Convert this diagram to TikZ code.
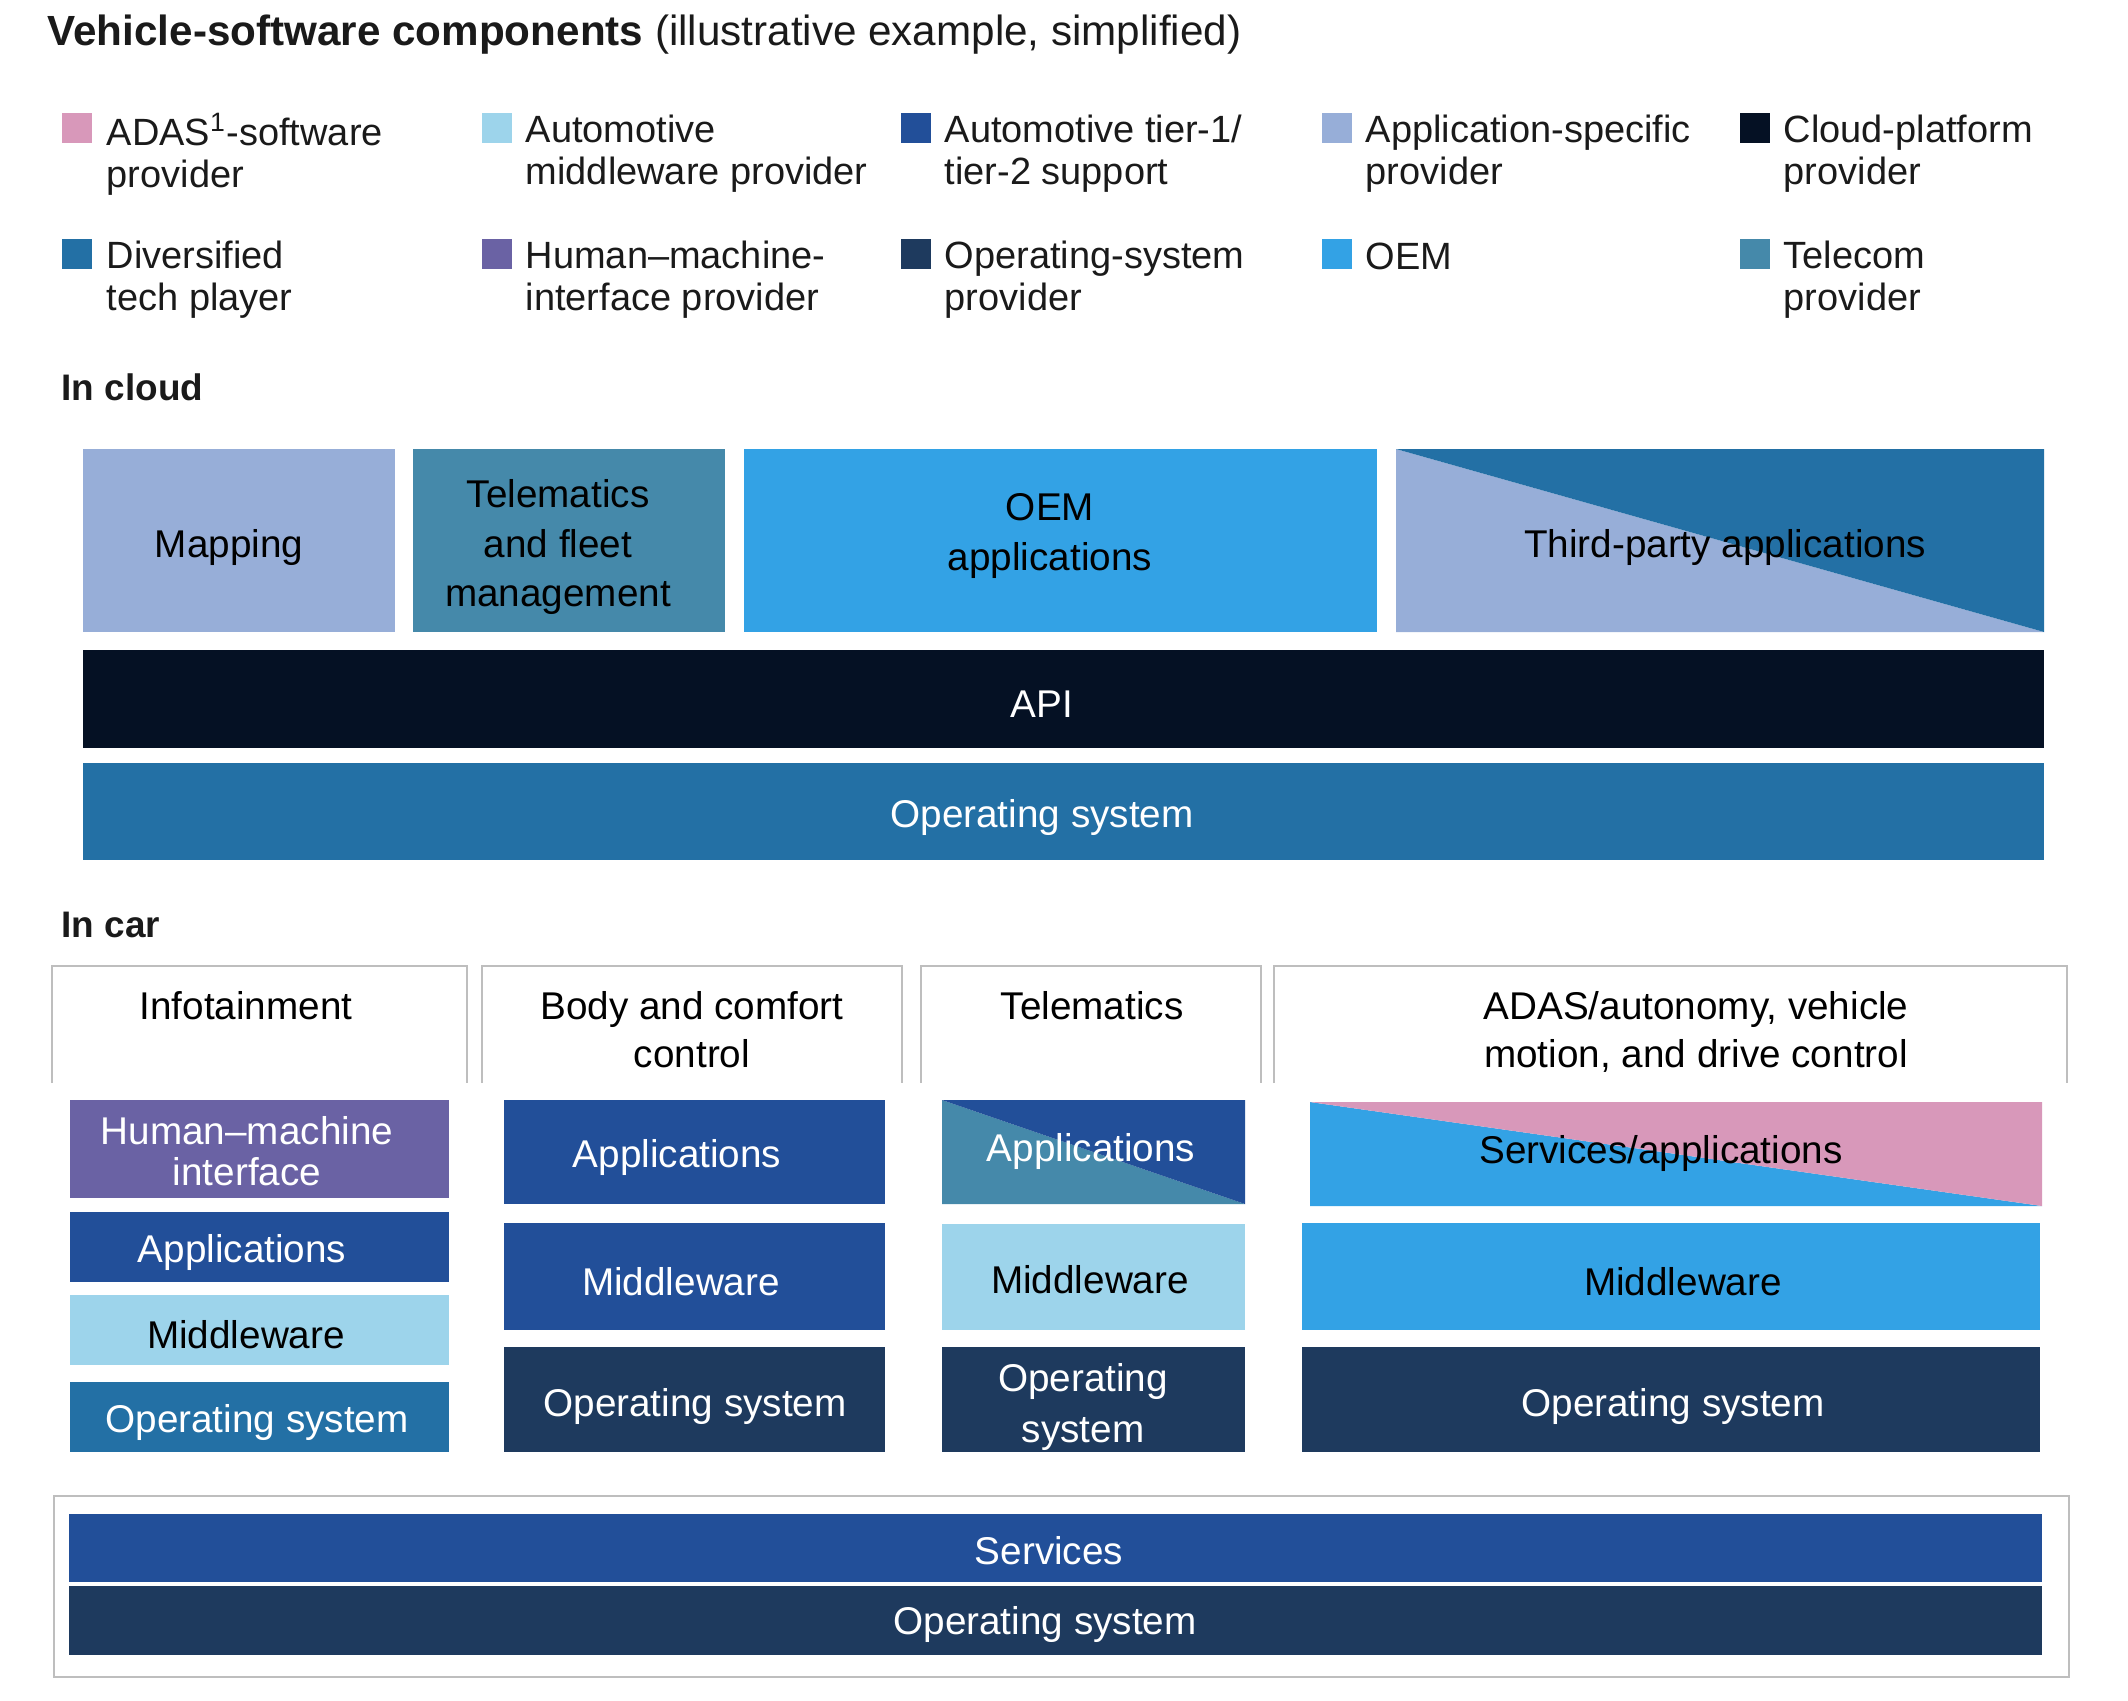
\documentclass[tikz,border=0pt]{standalone}
\usepackage{fontspec}
\setmainfont{Liberation Sans}
\definecolor{cADAS}{HTML}{D898BA}
\definecolor{cMid}{HTML}{9DD4EB}
\definecolor{cTier}{HTML}{224F99}
\definecolor{cApp}{HTML}{97AED8}
\definecolor{cCloud}{HTML}{051124}
\definecolor{cDiv}{HTML}{2370A5}
\definecolor{cHMI}{HTML}{6A62A4}
\definecolor{cOS}{HTML}{1E3A5E}
\definecolor{cOEM}{HTML}{33A2E5}
\definecolor{cTel}{HTML}{4589AA}
\definecolor{cFrame}{HTML}{BEBEBE}
\definecolor{cInk}{HTML}{1A1A1A}
\tikzset{
  swatch/.style={minimum size=0.3cm, inner sep=0pt, outer sep=0pt},
  lg/.style={anchor=west, align=left, inner sep=0pt, text=cInk, yshift=-0.04cm, font=\fontsize{10.8}{12}\selectfont},
  bt/.style={align=center, inner sep=0pt, text=black, yshift=-0.04cm, font=\fontsize{11}{14}\selectfont},
  wt/.style={bt, text=white},
  hd/.style={anchor=west, inner sep=0pt, text=cInk, font=\bfseries\fontsize{10.5}{12}\selectfont},
  frame/.style={draw=cFrame, line width=0.7pt},
  colhead/.style={align=center, inner sep=0pt, text=black, anchor=north, yshift=-0.03cm, font=\fontsize{11}{13.5}\selectfont}
}
\begin{document}
\begin{tikzpicture}[x=0.01cm,y=-0.01cm]
\useasboundingbox (0,0) rectangle (2128,1700);
% title
\node[anchor=west, inner sep=0pt, text=cInk, yshift=-0.05cm, font=\fontsize{12}{14}\selectfont] (title) at (47,30)
  {\textbf{Vehicle-software components} (illustrative example, simplified)};
% legend
\node[swatch, fill=cADAS] (s1) at (77,128) {};
\node[lg] (l1) at (106,150) {ADAS\textsuperscript{1}-software\\provider};
\node[swatch, fill=cMid] (s2) at (497,128) {};
\node[lg] (l2) at (525,150) {Automotive\\middleware provider};
\node[swatch, fill=cTier] (s3) at (916,128) {};
\node[lg] (l3) at (944,150) {Automotive tier-1/\\tier-2 support};
\node[swatch, fill=cApp] (s4) at (1337,128) {};
\node[lg] (l4) at (1365,150) {Application-specific\\provider};
\node[swatch, fill=cCloud] (s5) at (1755,128) {};
\node[lg] (l5) at (1783,150) {Cloud-platform\\provider};
\node[swatch, fill=cDiv] (s6) at (77,254) {};
\node[lg] (l6) at (106,276) {Diversified\\tech player};
\node[swatch, fill=cHMI] (s7) at (497,254) {};
\node[lg] (l7) at (525,276) {Human–machine-\\interface provider};
\node[swatch, fill=cOS] (s8) at (916,254) {};
\node[lg] (l8) at (944,276) {Operating-system\\provider};
\node[swatch, fill=cOEM] (s9) at (1337,254) {};
\node[lg, yshift=0.03cm] (l9) at (1365,255) {OEM};
\node[swatch, fill=cTel] (s10) at (1755,254) {};
\node[lg] (l10) at (1783,276) {Telecom\\provider};
% In cloud
\node[hd] (hcloud) at (61,387) {In cloud};
\fill[cApp] (83,449) rectangle (395,632);
\fill[cTel] (413,449) rectangle (725,632);
\fill[cOEM] (744,449) rectangle (1377,632);
\fill[cApp] (1396,449) -- (2044,632) -- (1396,632) -- cycle;
\fill[cDiv] (1396,449) -- (2044,449) -- (2044,632) -- cycle;
\fill[cCloud] (83,650) rectangle (2044,748);
\fill[cDiv] (83,763) rectangle (2044,860);
\node[bt] (map) at (229,543) {Mapping};
\node[bt] (tfm) at (558,543) {Telematics\\and fleet\\management};
\node[bt] (oema) at (1050,532) {OEM\\applications};
\node[bt] (tpa) at (1725,543) {Third-party applications};
\node[wt] (api) at (1042,700) {API};
\node[wt] (cos) at (1042,813) {Operating system};
% In car
\node[hd] (hcar) at (61,925) {In car};
\draw[frame] (52,1083) |- (467,966) -- (467,1083);
\draw[frame] (482,1083) |- (902,966) -- (902,1083);
\draw[frame] (921,1083) |- (1261,966) -- (1261,1083);
\draw[frame] (1274,1083) |- (2067,966) -- (2067,1083);
\node[colhead] (hinfo) at (246,988) {Infotainment};
\node[colhead] (hbody) at (692,988) {Body and comfort\\control};
\node[colhead] (htel) at (1092,988) {Telematics};
\node[colhead] (hadas) at (1696,988) {ADAS/autonomy, vehicle\\motion, and drive control};
% infotainment column
\fill[cHMI] (70,1100) rectangle (449,1198);
\fill[cTier] (70,1212) rectangle (449,1282);
\fill[cMid] (70,1295) rectangle (449,1365);
\fill[cDiv] (70,1382) rectangle (449,1452);
\node[wt, font=\fontsize{11}{11.6}\selectfont] (ihmi) at (247,1147) {Human–machine\\interface};
\node[wt] (iapp) at (242,1248) {Applications};
\node[bt] (imw) at (246,1331) {Middleware};
\node[wt] (ios) at (257,1418) {Operating system};
% body column
\fill[cTier] (504,1100) rectangle (885,1204);
\fill[cTier] (504,1223) rectangle (885,1330);
\fill[cOS] (504,1347) rectangle (885,1452);
\node[wt] (bapp) at (677,1153) {Applications};
\node[wt] (bmw) at (681,1278) {Middleware};
\node[wt] (bos) at (695,1402) {Operating system};
% telematics column
\fill[cTel] (942,1100) -- (1245,1204) -- (942,1204) -- cycle;
\fill[cTier] (942,1100) -- (1245,1100) -- (1245,1204) -- cycle;
\fill[cMid] (942,1224) rectangle (1245,1330);
\fill[cOS] (942,1347) rectangle (1245,1452);
\node[wt] (tapp) at (1091,1147) {Applications};
\node[bt] (tmw) at (1090,1276) {Middleware};
\node[wt, font=\fontsize{11}{14.3}\selectfont] (tos) at (1083,1403) {Operating\\system};
% ADAS column
\fill[cOEM] (1310,1102) -- (2042,1206) -- (1310,1206) -- cycle;
\fill[cADAS] (1310,1102) -- (2042,1102) -- (2042,1206) -- cycle;
\fill[cOEM] (1302,1223) rectangle (2040,1330);
\fill[cOS] (1302,1347) rectangle (2040,1452);
\node[bt] (aapp) at (1661,1149) {Services/applications};
\node[bt] (amw) at (1683,1278) {Middleware};
\node[wt] (aos) at (1673,1402) {Operating system};
% bottom platform
\draw[frame] (54,1496) rectangle (2069,1677);
\fill[cTier] (69,1514) rectangle (2042,1582);
\fill[cOS] (69,1586) rectangle (2042,1655);
\node[wt] (psrv) at (1049,1547) {Services};
\node[wt] (pos) at (1045,1620) {Operating system};
\end{tikzpicture}
\end{document}
